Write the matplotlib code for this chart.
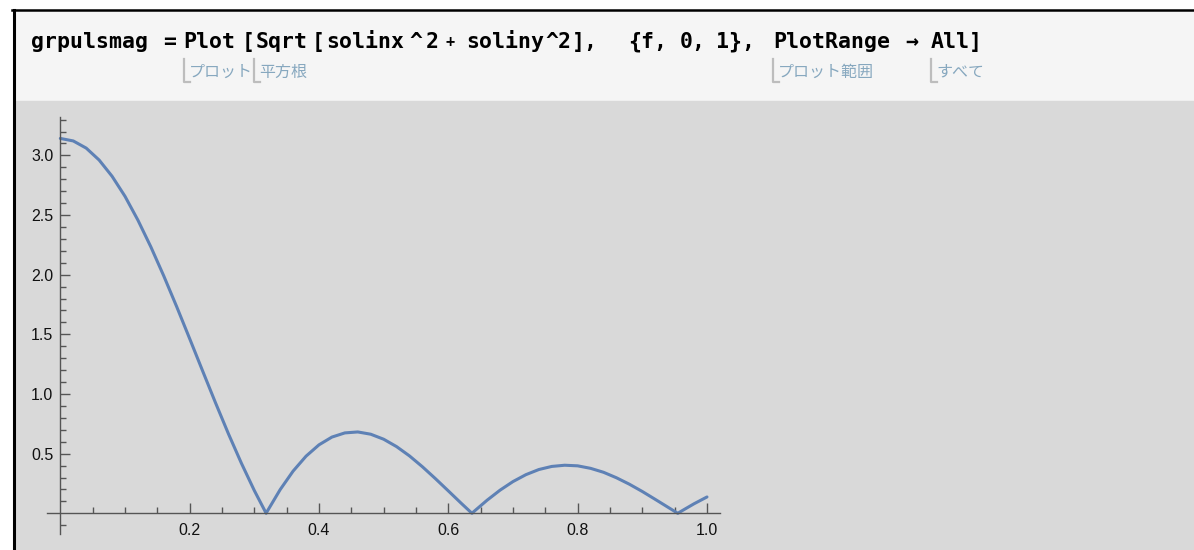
import numpy as np
import matplotlib
matplotlib.use("Agg")
import matplotlib.pyplot as plt
from matplotlib.patches import Rectangle
from matplotlib.lines import Line2D

# |spectrum| of the pulse, sampled over f in [0, 1]
freq = [0.00, 0.02, 0.04, 0.06, 0.08, 0.10, 0.12, 0.14, 0.16, 0.18,
        0.20, 0.22, 0.24, 0.26, 0.28, 0.30, 0.3183, 0.32, 0.34, 0.36,
        0.38, 0.40, 0.42, 0.44, 0.46, 0.48, 0.50, 0.52, 0.54, 0.56,
        0.58, 0.60, 0.62, 0.6366, 0.64, 0.66, 0.68, 0.70, 0.72, 0.74,
        0.76, 0.78, 0.80, 0.82, 0.84, 0.86, 0.88, 0.90, 0.92, 0.94,
        0.9549, 0.96, 0.98, 1.00]
mag = [3.142, 3.121, 3.061, 2.961, 2.825, 2.657, 2.457, 2.233, 1.989, 1.731,
       1.464, 1.194, 0.926, 0.666, 0.420, 0.191, 0.000, 0.017, 0.199, 0.354,
       0.479, 0.574, 0.639, 0.674, 0.682, 0.663, 0.621, 0.559, 0.481, 0.390,
       0.291, 0.188, 0.084, 0.000, 0.017, 0.110, 0.194, 0.266, 0.324, 0.367,
       0.393, 0.403, 0.398, 0.377, 0.344, 0.298, 0.244, 0.183, 0.117, 0.050,
       0.000, 0.017, 0.080, 0.137]

x_major = [0.2, 0.4, 0.6, 0.8, 1.0]
x_labels = ["0.2", "0.4", "0.6", "0.8", "1.0"]
y_major = [0.5, 1.0, 1.5, 2.0, 2.5, 3.0]
y_labels = ["0.5", "1.0", "1.5", "2.0", "2.5", "3.0"]

# input line: (left edge in px, token)
code_tokens = [(31, "grpulsmag"), (163, "="), (183, "Plot"), (242, "["),
               (256, "Sqrt"), (312, "["), (326, "solinx"), (409, "^"),
               (426, "2"), (466, "soliny"), (545, "^"), (558, "2"),
               (572, "],"), (628, "{f,"), (680, "0,"), (716, "1},"),
               (773, "PlotRange"), (905, "→"), (931, "All]")]
# japanese hints under the code: (bracket x in px, text)
hints = [(184, "プロット"), (254, "平方根"), (773, "プロット範囲"), (931, "すべて")]

W, H = 1194, 550
fig = plt.figure(figsize=(W / 100, H / 100), dpi=100, facecolor="white")


def fx(px):
    return px / W


def fy(py):
    return 1 - py / H


# notebook cell backgrounds and frame
fig.patches.append(Rectangle((fx(14), fy(101)), fx(W - 14), 90 / H,
                             transform=fig.transFigure, color="#f5f5f5", zorder=-10))
fig.patches.append(Rectangle((fx(14), 0), fx(W - 14), fy(101),
                             transform=fig.transFigure, color="#d9d9d9", zorder=-10))
fig.lines.append(Line2D([fx(12), 1], [fy(10), fy(10)], transform=fig.transFigure,
                        color="black", lw=1.8, zorder=-5))
fig.lines.append(Line2D([fx(13.5), fx(13.5)], [fy(10), 0], transform=fig.transFigure,
                        color="black", lw=2.2, zorder=-5))

for x, tok in code_tokens:
    fig.text(fx(x), fy(48), tok, family="DejaVu Sans Mono", weight="bold",
             fontsize=15.5, color="black", va="baseline", ha="left")
fig.text(fx(446), fy(47), "+", family="DejaVu Sans Mono", weight="bold",
         fontsize=11, color="black", va="baseline", ha="left")

for x, txt in hints:
    fig.lines.append(Line2D([fx(x), fx(x), fx(x + 6)], [fy(59), fy(82), fy(82)],
                            transform=fig.transFigure, color="#bdbdbd", lw=1.6))
    fig.text(fx(x + 5), fy(72), txt, family=["Noto Sans CJK JP", "DejaVu Sans"],
             fontsize=11.5, color="#87a8bf", va="center", ha="left")

# plot area: f from -0.02 to 1.02, y from -0.175 to 3.325
ax = fig.add_axes([fx(47.4), fy(534.2), (719.9 - 47.4) / W, (534.2 - 116.6) / H])
ax.set_zorder(5)
ax.set_facecolor("none")
ax.plot(freq, mag, color="#5e81b5", lw=2.2, solid_joinstyle="round",
        solid_capstyle="round", clip_on=False)
ax.set_xlim(-0.02, 1.02)
ax.set_ylim(-0.175, 3.325)

for side in ["top", "right"]:
    ax.spines[side].set_visible(False)
for side in ["left", "bottom"]:
    ax.spines[side].set_position(("data", 0))
    ax.spines[side].set_color("#555555")
    ax.spines[side].set_linewidth(1.0)

ax.set_xticks(x_major)
ax.set_xticklabels(x_labels)
ax.set_xticks([v / 20 for v in range(1, 21) if v % 4 != 0], minor=True)
ax.set_yticks(y_major)
ax.set_yticklabels(y_labels)
ax.set_yticks([v / 10 for v in range(-1, 34) if v % 5 != 0], minor=True)

ax.tick_params(which="both", direction="in", color="#555555", width=1.0,
               labelsize=11.5, labelcolor="#111111")
ax.tick_params(which="major", length=7)
ax.tick_params(which="minor", length=4)
ax.tick_params(axis="x", pad=7)
ax.tick_params(axis="y", pad=5)
for lab in ax.get_xticklabels() + ax.get_yticklabels():
    lab.set_family("Liberation Sans")

fig.savefig("out.png", dpi=100, facecolor="white")
